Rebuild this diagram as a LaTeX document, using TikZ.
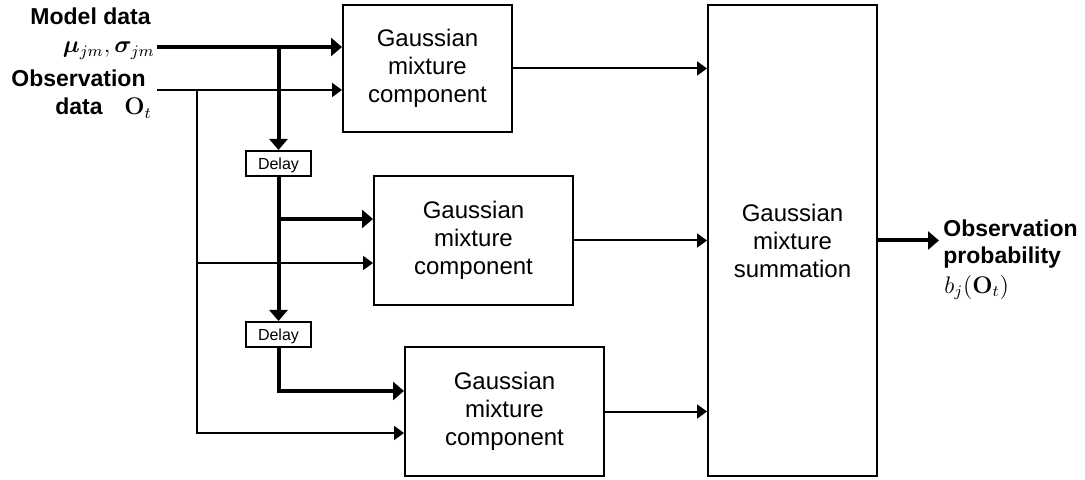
\documentclass[tikz,border=0pt]{standalone}
\usepackage{amsmath}
\usepackage{bm}
\usepackage[no-math]{fontspec}
\setmainfont{Liberation Sans}
\usetikzlibrary{arrows.meta, positioning}

\begin{document}
\begin{tikzpicture}[x=0.5pt, y=-0.5pt,
    blk/.style={draw, line width=1pt, align=center, inner sep=0pt, font=\fontsize{12}{14}\selectfont},
    dly/.style={draw, line width=1pt, inner sep=0pt, minimum width=32.5pt, minimum height=12.5pt, text height=6pt, text depth=0pt, font=\fontsize{8}{9}\selectfont},
    bus/.style={line width=2pt, -{Triangle[length=5.5pt, width=9pt]}},
    sig/.style={line width=1pt, -{Triangle[length=5pt, width=7pt]}},
    lbl/.style={inner sep=0pt, font=\fontsize{11.5}{14}\selectfont\bfseries},
    sym/.style={inner sep=0pt, font=\fontsize{12}{14}\selectfont}]
    \useasboundingbox (0,0) rectangle (1085,480);

    % Mixture components and summation
    \node[blk, minimum width=84.5pt, minimum height=63.5pt] (gmc1) at (427.5,68.5) {Gaussian\\mixture\\component};
    \node[blk, minimum width=99.5pt, minimum height=64.5pt] (gmc2) at (473.5,240.5) {Gaussian\\mixture\\component};
    \node[blk, minimum width=99.5pt, minimum height=64.5pt] (gmc3) at (504.5,411.5) {Gaussian\\mixture\\component};
    \node[blk, minimum width=84.5pt, minimum height=235.5pt] (gms) at (792.5,240.5) {Gaussian\\mixture\\summation};

    % Delays
    \node[dly] (dl1) at (278.5,163.5) {Delay};
    \node[dly] (dl2) at (278.5,334.5) {Delay};

    % Inputs
    \node[lbl, anchor=base east] (mdl) at (151,25) {Model data};
    \node[sym, anchor=base east] (par) at (155,53) {$\bm{\mu}_{jm},\bm{\sigma}_{jm}$};
    \node[lbl, anchor=base east] (obs) at (146,87) {Observation};
    \node[lbl, anchor=base east] (dat) at (103,115) {data};
    \node[sym, anchor=base west] (ot) at (124,115) {$\mathbf{O}_t$};
    \coordinate (mdin) at (157,47);
    \coordinate (obin) at (157,90);

    % Output
    \node[lbl, anchor=base west] (prob1) at (943,237) {Observation};
    \node[lbl, anchor=base west] (prob2) at (943,264) {probability};
    \node[sym, anchor=base west] (bj) at (944,293) {$b_j(\mathbf{O}_t)$};
    \coordinate (out) at (939,240.5);

    % Model data path
    \coordinate (b2) at (279,219);
    \draw[bus] (mdin) -- (mdin -| gmc1.west);
    \draw[bus] (mdin -| dl1) -- (dl1.north);
    \draw[bus] (dl1.south) -- (dl2.north);
    \draw[bus] (b2) -- (b2 -| gmc2.west);
    \draw[bus] (dl2.south) |- (gmc3.west |- 0,391);

    % Observation data path
    \coordinate (oj) at (197,90);
    \coordinate (o2) at (197,263);
    \draw[sig] (obin) -- (obin -| gmc1.west);
    \draw[sig] (oj) |- (gmc3.west |- 0,433);
    \draw[sig] (o2) -- (o2 -| gmc2.west);

    % Into summation and out
    \draw[sig] (gmc1.east) -- (gmc1.east -| gms.west);
    \draw[sig] (gmc2.east) -- (gmc2.east -| gms.west);
    \draw[sig] (gmc3.east) -- (gmc3.east -| gms.west);
    \draw[bus] (gms.east) -- (out);
\end{tikzpicture}
\end{document}
